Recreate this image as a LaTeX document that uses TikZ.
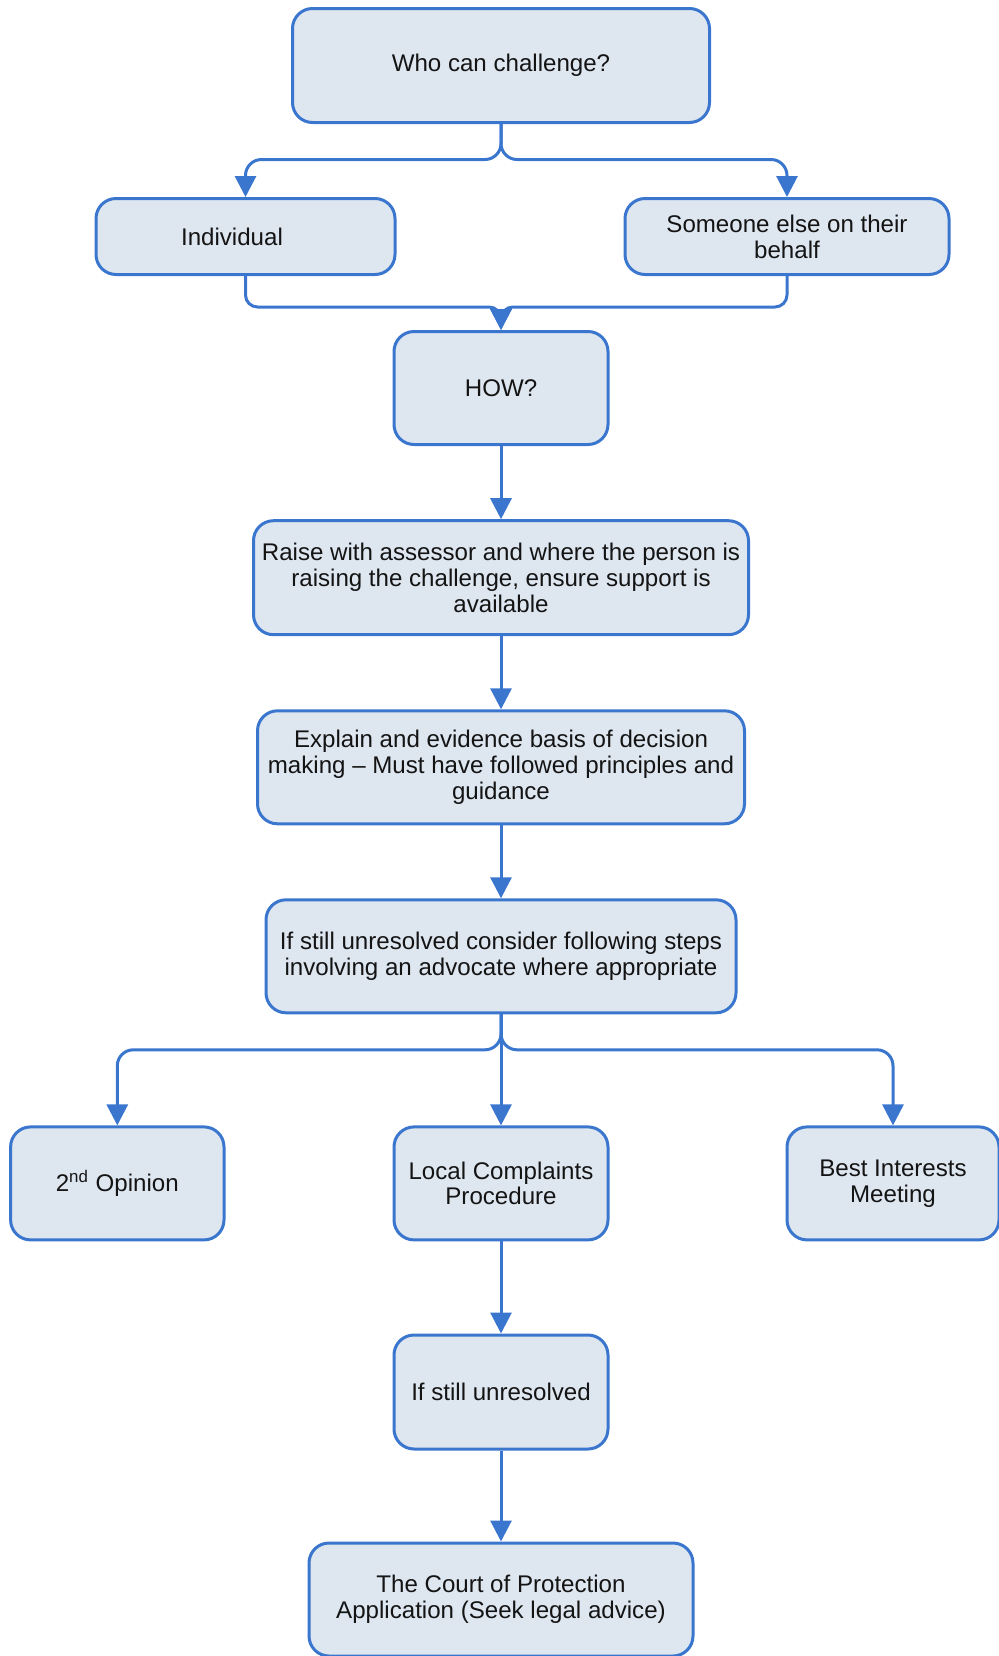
\documentclass[tikz,border=0pt]{standalone}
\usepackage{fontspec}
\setmainfont{Liberation Sans}
\usetikzlibrary{arrows.meta}
\definecolor{lineblue}{RGB}{58,118,206}
\definecolor{boxfill}{RGB}{222,230,240}
\definecolor{txt}{RGB}{20,20,20}
\begin{document}
\begin{tikzpicture}[x=0.5pt,y=-0.5pt,
  box/.style={draw=lineblue, fill=boxfill, line width=1.5pt, rounded corners=10pt,
    align=center, text=txt, font=\fontsize{12.05pt}{12.9pt}\selectfont, inner sep=0pt},
  conn/.style={draw=lineblue, line width=1.5pt, -{Triangle[length=10.5pt,width=10.5pt]}, rounded corners=8pt},
  mergeconn/.style={draw=lineblue, line width=1.5pt, -{Triangle[length=10.5pt,width=10.5pt]}, rounded corners=6pt}]
\useasboundingbox (0,0) rectangle (998,1656);
\node[box, minimum width=208.5pt, minimum height=57pt] (top) at (501,65.5) {Who can challenge?};
\node[box, minimum width=149.5pt, minimum height=38pt] (ind) at (245.5,236.5) {Individual\hspace{13.5pt}};
\node[box, minimum width=162pt, minimum height=38pt] (some) at (787,236.5) {Someone else on their\\behalf};
\node[box, minimum width=107pt, minimum height=56.5pt] (how) at (501,388) {HOW?};
\node[box, minimum width=247.5pt, minimum height=57pt] (raise) at (501,577.7) {Raise with assessor and where the person is\\raising the challenge, ensure support is\\available};
\node[box, minimum width=243.5pt, minimum height=56.5pt] (explain) at (501,767.3) {Explain and evidence basis of decision\\making \textendash{} Must have followed principles and\\guidance};
\node[box, minimum width=235pt, minimum height=56.5pt] (unres) at (501,956.3) {If still unresolved consider following steps\\involving an advocate where appropriate};
\node[box, minimum width=106.7pt, minimum height=56.5pt] (second) at (117.3,1183.4) {2\textsuperscript{nd} Opinion};
\node[box, minimum width=107pt, minimum height=56.5pt] (local) at (501,1183.4) {Local Complaints\\Procedure};
\node[box, minimum width=106pt, minimum height=56.5pt] (best) at (893,1183.4) {Best Interests\\Meeting};
\node[box, minimum width=107pt, minimum height=57pt] (still) at (501,1392) {If still unresolved};
\node[box, minimum width=192pt, minimum height=56.5pt] (court) at (501,1599.5) {The Court of Protection\\Application (Seek legal advice)};
% connectors
\draw[conn] (top.south) -- (501,159.5) -| (ind.north);
\draw[conn] (top.south) -- (501,159.5) -| (some.north);
\draw[mergeconn] (ind.south) -- (245.5,307) -| (how.north);
\draw[mergeconn] (some.south) -- (787,307) -| (how.north);
\draw[conn] (how.south) -- (raise.north);
\draw[conn] (raise.south) -- (explain.north);
\draw[conn] (explain.south) -- (unres.north);
\draw[conn] (unres.south) -- (501,1049.8) -| (second.north);
\draw[conn] (unres.south) -- (local.north);
\draw[conn] (unres.south) -- (501,1049.8) -| (best.north);
\draw[conn] (local.south) -- (still.north);
\draw[conn] (still.south) -- (court.north);
\end{tikzpicture}
\end{document}
